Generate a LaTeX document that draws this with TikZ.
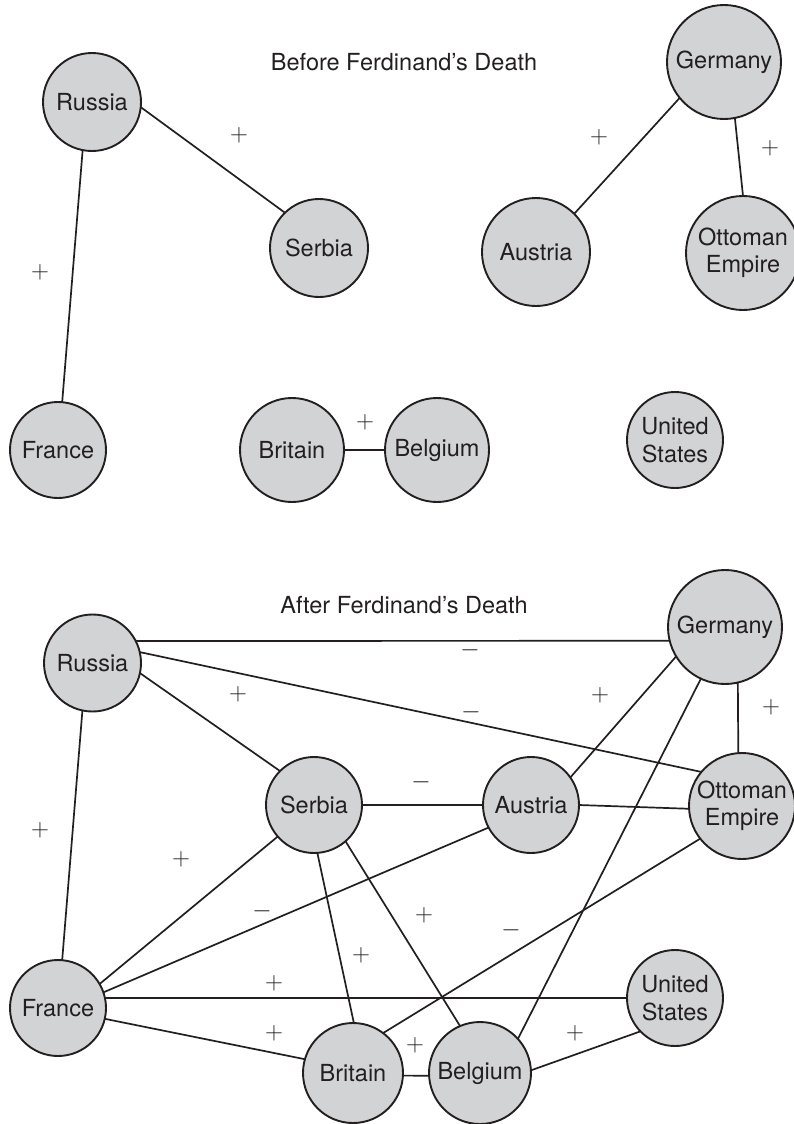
\documentclass[tikz,border=0pt]{standalone}
\usepackage{fontspec}
\setmainfont{TeX Gyre Heros}
\definecolor{ink}{HTML}{231F20}
\definecolor{disc}{HTML}{D1D3D4}
\begin{document}
\begin{tikzpicture}[x=1pt,y=-1pt,
  country/.style={circle, draw=ink, fill=disc, line width=1.9pt, inner sep=0pt,
    outer sep=0pt, minimum size=2*#1, text=ink, align=center,
    font=\fontsize{23.5}{27.5}\selectfont},
  tie/.style={draw=ink, line width=1.7pt},
  sign/.style={text=ink, inner sep=0pt, font=\fontsize{24}{24}\selectfont},
  heading/.style={text=ink, font=\fontsize{23.5}{27.5}\selectfont}]
\useasboundingbox (0,0) rectangle (794,1124);

% ---------- before ----------
\node[heading] (before) at (404,62) {Before Ferdinand’s Death};

\node[country=49] (russia1)  at (92,102)  {Russia};
\node[country=49] (serbia1)  at (319,248) {Serbia};
\node[country=57] (germany1) at (724,62)  {Germany};
\node[country=54] (austria1) at (536,252) {Austria};
\node[country=57] (ottoman1) at (743,253) {Ottoman\\Empire};
\node[country=48] (france1)  at (58,450)  {France};
\node[country=52] (britain1) at (292,450) {Britain};
\node[country=52] (belgium1) at (437,450) {Belgium};
\node[country=48] (us1)      at (675,440) {United\\States};

\draw[tie] (russia1.-6)    -- (serbia1.134);
\draw[tie] (russia1.-101)  -- (france1.85);
\draw[tie] (germany1.-141) -- (austria1.45);
\draw[tie] (germany1.-79)  -- (ottoman1.90);
\draw[tie] (britain1.east) -- (belgium1.west);

\node[sign] (b1) at (239,135) {$+$};
\node[sign] (b2) at (40,272)  {$+$};
\node[sign] (b3) at (599,137) {$+$};
\node[sign] (b4) at (770,148) {$+$};
\node[sign] (b5) at (365,422) {$+$};

% ---------- after ----------
\node[heading] (after) at (404,605) {After Ferdinand’s Death};

\node[country=48.5] (russia2)  at (92.5,663) {Russia};
\node[country=48]   (serbia2)  at (314,805)  {Serbia};
\node[country=57]   (germany2) at (725,627)  {Germany};
\node[country=48]   (austria2) at (531,805)  {Austria};
\node[country=53]   (ottoman2) at (742,806)  {Ottoman\\Empire};
\node[country=48]   (france2)  at (58,1008)  {France};
\node[country=50]   (britain2) at (353,1073) {Britain};
\node[country=51]   (belgium2) at (480,1073) {Belgium};
\node[country=48]   (us2)      at (675,998)  {United\\States};

\draw[tie] (russia2.27)    -- (germany2.194);
\draw[tie] (russia2.13)    -- (ottoman2.140);
\draw[tie] (russia2.-12)   -- (serbia2.135);
\draw[tie] (russia2.-102)  -- (france2.85);
\draw[tie] (germany2.-149) -- (austria2.35);
\draw[tie] (germany2.-115) -- (belgium2.42);
\draw[tie] (germany2.-77)  -- (ottoman2.94);
\draw[tie] (serbia2.east)  -- (austria2.west);
\draw[tie] (austria2.0)    -- (ottoman2.183);
\draw[tie] (serbia2.-139)  -- (france2.30);
\draw[tie] (austria2.-152) -- (france2.19);
\draw[tie] (serbia2.-86)   -- (britain2.89);
\draw[tie] (serbia2.-49)   -- (belgium2.113);
\draw[tie] (ottoman2.-142) -- (britain2.53);
\draw[tie] (france2.12)    -- (us2.west);
\draw[tie] (france2.-13)   -- (britain2.164);
\draw[tie] (britain2.-3)   -- (belgium2.-177);
\draw[tie] (belgium2.3)    -- (us2.224);

\node[sign] (a1)  at (238,694)  {$+$};
\node[sign] (a2)  at (470,650)  {$-$};
\node[sign] (a3)  at (471,712)  {$-$};
\node[sign] (a4)  at (600,695)  {$+$};
\node[sign] (a5)  at (771,707)  {$+$};
\node[sign] (a6)  at (40,830)   {$+$};
\node[sign] (a7)  at (181,859)  {$+$};
\node[sign] (a8)  at (421,782)  {$-$};
\node[sign] (a9)  at (262,911)  {$-$};
\node[sign] (a10) at (424,915)  {$+$};
\node[sign] (a11) at (511,930)  {$-$};
\node[sign] (a12) at (361,955)  {$+$};
\node[sign] (a13) at (274,983)  {$+$};
\node[sign] (a14) at (274,1033) {$+$};
\node[sign] (a15) at (415,1045) {$+$};
\node[sign] (a16) at (575,1033) {$+$};
\end{tikzpicture}
\end{document}
